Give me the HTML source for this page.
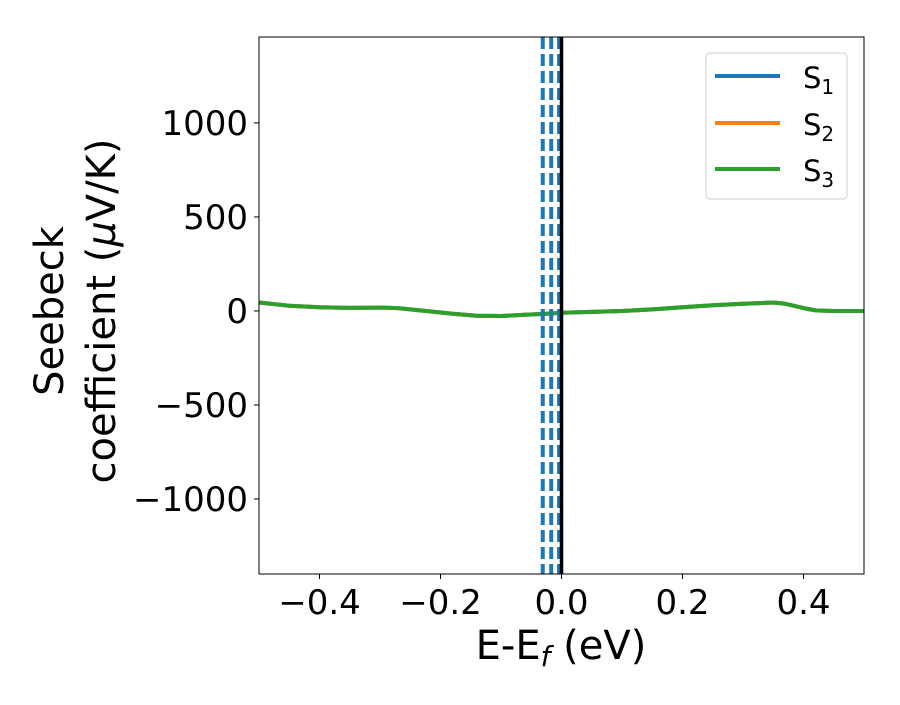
<!DOCTYPE html>
<html><head><meta charset="utf-8"><style>body{margin:0;background:#fff}svg text{font-family:"DejaVu Sans","Liberation Sans",sans-serif}</style></head>
<body>
<svg id="chart" width="900" height="700"></svg>
<script>
const xVals=[-0.5,-0.45,-0.4,-0.35,-0.3,-0.27,-0.22,-0.18,-0.14,-0.1,-0.06,-0.02,0,0.05,0.1,0.15,0.2,0.25,0.3,0.35,0.37,0.4,0.42,0.45,0.5];
const s1=[45,28,20,16,18,15,-2,-15,-25,-27,-20,-14,-10,-5,0,8,20,30,38,45,38,15,3,0,0];
const s2=s1.slice();
const s3=s1.slice();
const xTicks=[-0.4,-0.2,0.0,0.2,0.4];
const xTickLabels=["−0.4","−0.2","0.0","0.2","0.4"];
const yTicks=[-1000,-500,0,500,1000];
const yTickLabels=["−1000","−500","0","500","1000"];
const vlines=[-0.031,-0.017,-0.004];
const NS="http://www.w3.org/2000/svg";
const svg=document.getElementById('chart');
const L=259,R=864,T=37,B=574,xmin=-0.5,xmax=0.5,ymin=-1399,ymax=1457;
const X=v=>L+(v-xmin)/(xmax-xmin)*(R-L);
const Y=v=>B-(v-ymin)/(ymax-ymin)*(B-T);
function el(t,a,p){const e=document.createElementNS(NS,t);for(const k in a)e.setAttribute(k,a[k]);(p||svg).appendChild(e);return e;}
const clip=el('clipPath',{id:'pc'});el('rect',{x:L,y:T,width:R-L,height:B-T},clip);
const g=el('g',{'clip-path':'url(#pc)'});


function line(vals,color,name){const d=xVals.map((x,i)=>(i?'L':'M')+X(x).toFixed(1)+','+Y(vals[i]).toFixed(1)).join('');const p=el('path',{d:d,fill:'none',stroke:color,'stroke-width':4,'stroke-linejoin':'round'},g);}
line(s1,'#1f77b4','series-s1');line(s2,'#ff7f0e','series-s2');line(s3,'#2ca02c','series-s3');
vlines.forEach((v,i)=>{const l=el('line',{x1:X(v),x2:X(v),y1:T,y2:B,stroke:'#1f77b4','stroke-width':4,'stroke-dasharray':'12,5'},g);});
const zl=el('line',{x1:X(0),x2:X(0),y1:T,y2:B,stroke:'#000','stroke-width':3.5},g);


const fr=el('rect',{x:L,y:T,width:R-L,height:B-T,fill:'none',stroke:'#000','stroke-width':1});


xTicks.forEach((v,i)=>{el('line',{x1:X(v),x2:X(v),y1:B,y2:B+5,stroke:'#000'});const t=el('text',{x:X(v),y:B+40,'text-anchor':'middle','font-size':34});t.textContent=xTickLabels[i];});
yTicks.forEach((v,i)=>{el('line',{x1:L-5,x2:L,y1:Y(v),y2:Y(v),stroke:'#000'});const t=el('text',{x:L-11,y:Y(v)+12,'text-anchor':'end','font-size':34});t.textContent=yTickLabels[i];});
</script>
<svg width="900" height="700" style="position:absolute;left:0;top:0">
<text x="561" y="659" text-anchor="middle" font-size="40">E-E<tspan font-style="italic" font-size="28" dy="7">f</tspan><tspan dy="-7"> (eV)</tspan></text>
<g transform="translate(63,311) rotate(-90)">
<text x="0" y="0" text-anchor="middle" font-size="40">Seebeck</text>
<text x="0" y="52" text-anchor="middle" font-size="40">coefficient  (<tspan font-style="italic">μ</tspan>V/K)</text>
</g>
<g>
<rect x="706" y="53" width="141" height="146" rx="4" fill="#fff" stroke="#ccc" stroke-width="1"/>
<line x1="715" x2="780" y1="76" y2="76" stroke="#1f77b4" stroke-width="4"/>
<text x="803" y="88" font-size="29">S<tspan font-size="20" dy="6">1</tspan></text>
<line x1="715" x2="780" y1="123" y2="123" stroke="#ff7f0e" stroke-width="4"/>
<text x="803" y="135" font-size="29">S<tspan font-size="20" dy="6">2</tspan></text>
<line x1="715" x2="780" y1="169" y2="169" stroke="#2ca02c" stroke-width="4"/>
<text x="803" y="181" font-size="29">S<tspan font-size="20" dy="6">3</tspan></text>
</g>
</svg>
</body></html>
